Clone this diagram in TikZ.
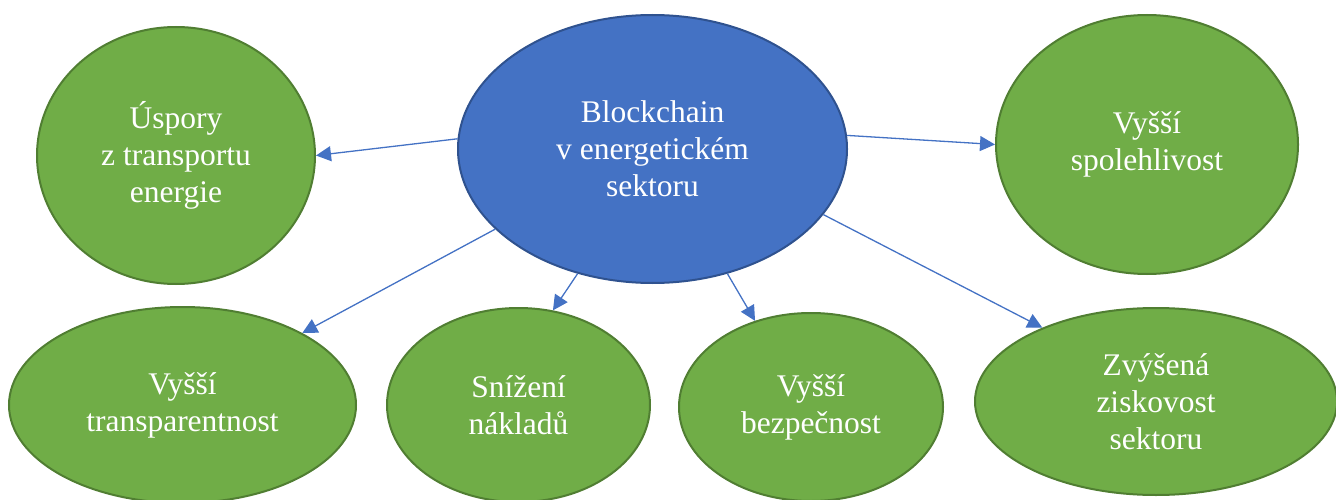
\documentclass[tikz,border=0pt]{standalone}
\usepackage{fontspec}
\setmainfont{Liberation Serif}
\usetikzlibrary{shapes.geometric,arrows.meta}
\definecolor{hubfill}{HTML}{4472C4}
\definecolor{hubline}{HTML}{2F528F}
\definecolor{leaffill}{HTML}{70AD47}
\definecolor{leafline}{HTML}{507E32}
\definecolor{linkblue}{HTML}{4472C4}

\begin{document}
\begin{tikzpicture}[x=1pt,y=-1pt,
  bubble/.style={ellipse, inner sep=0pt, line width=2pt, text=white,
    align=center, font=\fontsize{31.5}{36.8}\selectfont},
  hubbubble/.style={bubble, fill=hubfill, draw=hubline},
  leafbubble/.style={bubble, fill=leaffill, draw=leafline},
  link/.style={draw=linkblue, line width=1.3pt,
    -{Triangle[length=15pt,width=15pt]}}]
\useasboundingbox (0,0) rectangle (1336,500);

% central topic
\node[hubbubble, minimum width=389pt, minimum height=268pt] (hub)
  at (652.5,149) {Blockchain\\v energetickém\\sektoru};

% benefits, upper row
\node[leafbubble, minimum width=278pt, minimum height=257pt] (uspory)
  at (176,155.5) {Úspory\\z transportu\\energie};
\node[leafbubble, minimum width=302pt, minimum height=259pt] (spol)
  at (1147,144.5) {Vyšší\\spolehlivost};

% benefits, lower row
\node[leafbubble, minimum width=347pt, minimum height=196pt] (transp)
  at (182.5,405) {Vyšší\\transparentnost};
\node[leafbubble, minimum width=263pt, minimum height=194pt] (naklady)
  at (518.5,405) {Snížení\\nákladů};
\node[leafbubble, minimum width=264pt, minimum height=188pt] (bezp)
  at (811,407) {Vyšší\\bezpečnost};
\node[leafbubble, minimum width=362pt, minimum height=187pt] (zisk)
  at (1156,401.5) {Zvýšená\\ziskovost\\sektoru};

% connectors from the central topic
\draw[link] (hub.177.3) -- (uspory.0);
\draw[link] (hub.4.1) -- (spol.180);
\draw[link] (hub.207.3) -- (transp.31.9);
\draw[link] (hub.239) -- (naklady.70);
\draw[link] (hub.301.5) -- (bezp.123);
\draw[link] (hub.339.2) -- (zisk.147.4);
\end{tikzpicture}
\end{document}
